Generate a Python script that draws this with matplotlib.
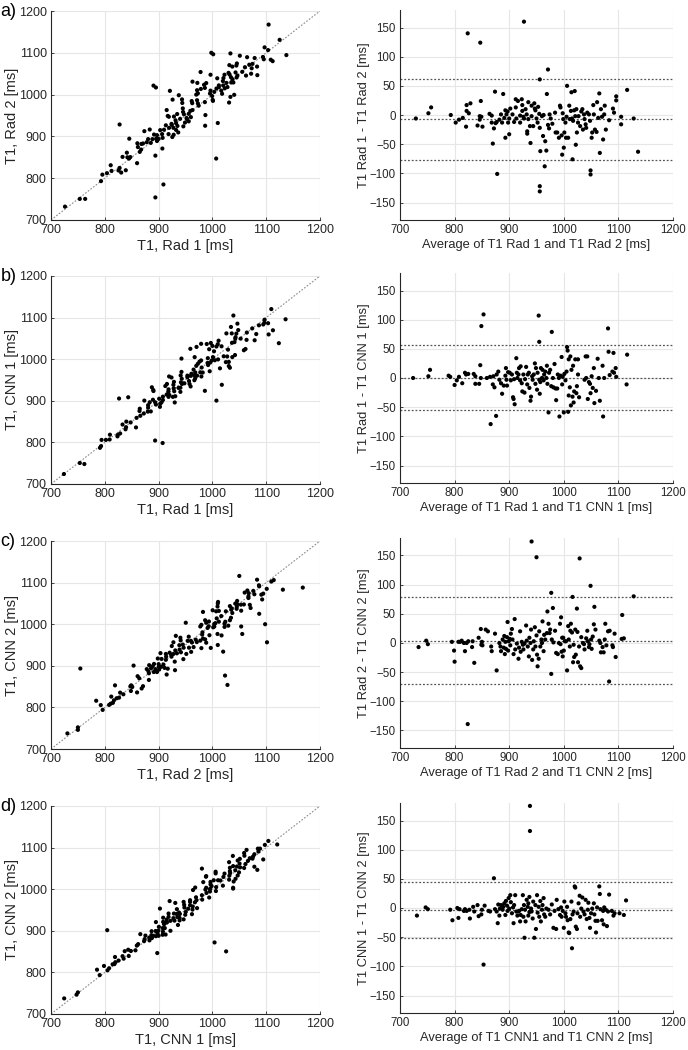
import numpy as np
import matplotlib
matplotlib.use('Agg')
import matplotlib.pyplot as plt

plt.rcParams['font.family'] = ['Liberation Sans', 'DejaVu Sans']

## Bland-Altman points: (average, difference) in ms
ba_a = [(729,-6),(752,3),(757,13),(793,0),(802,-13),(808,-8),(815,-5),(821,-20),(822,17),(822,7),
        (824,140),(826,3),(829,20),(842,-18),(846,-8),(846,-2),(848,24),(847,124),(851,-20),(849,-3),
        (864,2),(868,-1),(868,-13),(870,-49),(872,-23),(874,40),(875,-14),(877,-12),(878,-101),(882,-8),
        (885,1),(887,-13),(889,36),(891,-5),(893,8),(893,-39),(895,1),(897,6),(898,-13),(900,-33),
        (900,-6),(902,11),(906,1),(909,-12),(912,27),(912,13),(913,-6),(916,24),(920,-13),(920,-1),
        (923,27),(924,17),(924,7),(926,-3),(927,160),(927,-6),(930,10),(932,1),(933,-28),(933,-32),
        (935,22),(935,-7),(938,-19),(939,-48),(941,16),(941,-2),(944,-19),(946,20),(947,11),(948,8),
        (950,-6),(952,-13),(953,14),(955,2),(956,-22),(956,61),(956,-122),(956,-131),(957,-62),(960,-2),
        (962,-36),(963,0),(965,-88),(966,-45),(968,-61),(969,36),(971,78),(971,-17),(973,-23),(974,1),
        (976,-6),(979,-15),(984,4),(985,-30),(988,-30),(991,-39),(993,16),(994,13),(996,-35),(997,-68),
        (998,3),(999,-7),(1000,-56),(1001,-30),(1003,-13),(1004,-39),(1005,-3),(1006,50),(1008,-39),(1010,16),
        (1011,-7),(1013,7),(1014,39),(1015,-6),(1016,-76),(1017,-10),(1019,8),(1020,41),(1021,-2),(1022,-51),
        (1023,10),(1024,-30),(1026,-13),(1027,-2),(1030,-19),(1032,6),(1034,10),(1035,-25),(1037,1),(1038,-7),
        (1040,-16),(1041,-22),(1043,4),(1046,1),(1048,-10),(1049,-95),(1049,-102),(1051,-39),(1052,-30),(1054,17),
        (1055,1),(1057,-25),(1060,-29),(1061,22),(1063,-5),(1065,37),(1066,-65),(1068,10),(1070,-3),(1072,-42),
        (1074,1),(1075,16),(1077,-25),(1083,-9),(1090,11),(1092,4),(1096,32),(1096,25),(1105,-3),(1105,-16),
        (1116,43),(1128,-6),(1136,-63)]

ba_b = [(724,0),(752,3),(755,14),(789,4),(792,2),(800,-12),(804,-4),(808,2),(814,-9),(819,9),
        (821,6),(825,7),(835,7),(838,3),(838,-10),(845,-10),(847,22),(848,0),(849,89),(853,109),
        (859,0),(865,2),(866,-79),(870,-11),(871,3),(873,-16),(876,-65),(877,6),(880,11),(882,-3),
        (885,-9),(887,-27),(890,-13),(893,4),(894,17),(895,-3),(896,-13),(898,10),(901,9),(903,-4),
        (905,6),(907,-33),(908,-36),(909,-2),(910,-45),(913,34),(914,9),(915,0),(917,6),(918,17),
        (920,-4),(921,20),(923,-9),(924,-23),(926,6),(928,-25),(929,-2),(931,19),(933,-11),(934,6),
        (936,9),(937,-17),(939,-39),(940,-32),(942,3),(943,-3),(945,6),(947,25),(948,-10),(949,17),
        (951,-20),(952,9),(954,107),(955,62),(955,-3),(956,-27),(957,-7),(958,17),(960,0),(961,14),
        (963,-4),(964,6),(966,11),(968,0),(969,21),(970,-10),(972,-59),(973,9),(975,14),(977,-14),
        (978,79),(980,0),(981,-16),(983,24),(985,-18),(986,-38),(988,-18),(989,6),(991,0),(992,-66),
        (994,4),(996,36),(997,-11),(998,2),(1000,-59),(1001,7),(1003,-4),(1005,11),(1006,53),(1007,47),
        (1008,-58),(1009,32),(1009,-30),(1011,-16),(1012,37),(1013,-47),(1014,14),(1016,-32),(1017,21),(1018,-42),
        (1019,-23),(1021,32),(1023,-26),(1024,-14),(1026,32),(1026,6),(1028,-33),(1038,-3),(1040,37),(1041,0),
        (1043,37),(1044,-36),(1046,-7),(1048,-10),(1049,-26),(1051,3),(1053,-17),(1055,17),(1056,-43),(1059,-22),
        (1062,33),(1064,0),(1066,-39),(1071,21),(1072,-66),(1074,0),(1081,85),(1082,45),(1084,5),(1089,11),
        (1091,43),(1092,9),(1095,17),(1096,2),(1115,-11),(1116,40)]

ba_c = [(734,-7),(748,4),(751,-2),(795,2),(799,-13),(800,-32),(807,2),(810,2),(813,4),(817,0),
        (819,-14),(822,0),(824,-139),(825,3),(832,-7),(833,3),(836,-34),(844,9),(848,24),(849,-3),
        (850,2),(851,-4),(857,23),(861,20),(867,-6),(868,-14),(874,16),(877,-47),(882,0),(884,-6),
        (885,-14),(888,6),(890,-8),(891,12),(892,-19),(893,2),(894,-10),(896,10),(897,36),(898,-13),
        (899,3),(901,7),(902,-4),(903,16),(905,24),(906,6),(908,-19),(910,41),(911,-11),(914,-1),
        (917,-27),(918,-8),(920,20),(921,-15),(923,2),(925,-3),(926,-11),(928,-1),(931,30),(932,4),
        (934,-6),(936,-23),(937,9),(939,0),(940,23),(941,174),(942,-29),(944,-11),(945,3),(947,27),
        (948,-6),(950,13),(950,147),(951,-20),(952,-40),(954,-27),(955,20),(957,-6),(959,6),(960,0),
        (961,37),(963,-14),(964,14),(966,6),(969,17),(970,54),(972,33),(974,17),(975,23),(977,86),
        (977,-53),(978,6),(980,60),(981,1),(984,21),(986,-17),(989,-19),(991,0),(993,33),(994,-2),
        (995,44),(996,-15),(997,9),(998,-23),(999,9),(1000,-13),(1002,3),(1004,3),(1006,-47),(1008,29),
        (1009,6),(1011,-6),(1012,21),(1013,33),(1015,18),(1016,79),(1017,-33),(1018,-3),(1019,-24),(1021,23),
        (1022,-20),(1024,59),(1025,19),(1026,-33),(1028,-6),(1029,145),(1030,-40),(1032,-43),(1032,10),(1035,0),
        (1037,-2),(1038,-11),(1041,8),(1043,21),(1044,3),(1046,-7),(1047,-2),(1049,98),(1050,6),(1051,-10),
        (1053,11),(1055,32),(1056,62),(1058,23),(1065,4),(1067,0),(1068,-16),(1071,-7),(1073,-16),(1075,6),
        (1076,33),(1078,-4),(1081,20),(1083,-66),(1084,21),(1089,-4),(1090,-7),(1093,16),(1095,-24),(1106,7),
        (1107,48),(1110,8),(1128,80)]

ba_d = [(731,-13),(747,1),(751,-2),(792,-3),(796,-21),(805,0),(807,-17),(809,-2),(817,-5),(819,-2),
        (822,-5),(827,-3),(828,-18),(834,2),(836,-6),(842,5),(844,-14),(849,-11),(850,-3),(853,-97),
        (855,4),(862,-5),(865,-6),(872,51),(874,-2),(877,-6),(879,-26),(880,6),(882,-13),(883,-1),
        (885,5),(888,-3),(889,2),(891,8),(893,-12),(894,12),(896,4),(897,-5),(899,17),(900,-1),
        (902,22),(903,10),(905,-9),(907,1),(908,-26),(909,5),(911,22),(913,-6),(915,-13),(917,-6),
        (918,-5),(920,-23),(921,-12),(923,-2),(925,22),(926,-15),(927,5),(928,-51),(929,-3),(930,-23),
        (932,14),(934,2),(935,-13),(935,8),(937,19),(937,-7),(938,132),(938,175),(940,-1),(941,-6),
        (943,-18),(944,11),(946,-51),(948,5),(949,-36),(951,22),(952,-8),(954,2),(955,-15),(957,12),
        (958,-23),(960,-3),(961,5),(963,17),(964,-11),(966,-15),(968,-1),(972,-3),(975,-11),(978,6),
        (981,-34),(983,-5),(986,-36),(987,14),(990,-2),(993,-12),(995,1),(996,-15),(998,-5),(1000,-34),
        (1001,11),(1003,-9),(1004,-15),(1006,2),(1007,-21),(1009,-42),(1010,-43),(1012,-19),(1014,11),(1015,-69),
        (1016,-11),(1018,-6),(1020,37),(1021,35),(1022,-32),(1024,-36),(1025,-9),(1027,8),(1029,21),(1030,-15),
        (1032,-1),(1034,18),(1036,-6),(1038,-11),(1040,14),(1042,-19),(1044,-3),(1045,9),(1047,-17),(1048,-34),
        (1050,-9),(1052,-1),(1055,8),(1056,-11),(1058,-22),(1059,-42),(1061,1),(1062,-22),(1065,37),(1066,24),
        (1067,-2),(1070,-21),(1072,-5),(1073,-28),(1074,1),(1077,-3),(1079,-31),(1081,-6),(1083,23),(1088,-5),
        (1091,-13),(1093,-9),(1102,-9),(1110,-12),(1114,13)]

# bias, upper and lower limits of agreement
loa_a = (-7, 62, -77)
loa_b = (0, 56, -55)
loa_c = (4, 79, -70)
loa_d = (-4, 44, -52)

rows = [
    ('a)', ba_a, loa_a, 'T1, Rad 1 [ms]', 'T1, Rad 2 [ms]',
     'Average of T1 Rad 1 and T1 Rad 2 [ms]', 'T1 Rad 1 - T1 Rad 2 [ms]'),
    ('b)', ba_b, loa_b, 'T1, Rad 1 [ms]', 'T1, CNN 1 [ms]',
     'Average of T1 Rad 1 and T1 CNN 1 [ms]', 'T1 Rad 1 - T1 CNN 1 [ms]'),
    ('c)', ba_c, loa_c, 'T1, Rad 2 [ms]', 'T1, CNN 2 [ms]',
     'Average of T1 Rad 2 and T1 CNN 2 [ms]', 'T1 Rad 2 - T1 CNN 2 [ms]'),
    ('d)', ba_d, loa_d, 'T1, CNN 1 [ms]', 'T1, CNN 2 [ms]',
     'Average of T1 CNN1 and T1 CNN 2 [ms]', 'T1 CNN 1 - T1 CNN 2 [ms]'),
]

W, H = 688, 1050
left_tb = [(11, 220), (276, 484), (541, 749), (806, 1014)]
right_tb = [(10, 220), (273, 483), (538, 748), (803, 1013)]

AXC = '#262626'
GRIDC = '#e6e6e6'

def box(l, t, r, b):
    return [l / W, 1 - b / H, (r - l) / W, (b - t) / H]

def style(ax, fs):
    for s in ['top', 'right']:
        ax.spines[s].set_visible(False)
    for s in ['left', 'bottom']:
        ax.spines[s].set_color(AXC)
        ax.spines[s].set_linewidth(0.8)
    ax.grid(True, color=GRIDC, lw=0.8)
    ax.set_axisbelow(True)
    ax.tick_params(direction='in', length=2.5, width=0.6, colors=AXC,
                   labelsize=fs, pad=3)

fig = plt.figure(figsize=(W / 100, H / 100), dpi=100)

for i, (tag, ba, loa, xl, yl, bxl, byl) in enumerate(rows):
    pts = np.array(ba, dtype=float)
    avg, dif = pts[:, 0], pts[:, 1]
    x = avg + dif / 2
    y = avg - dif / 2

    ## scatter of the two readers
    t, b = left_tb[i]
    ax = fig.add_axes(box(51, t, 320, b))
    ax.plot([700, 1200], [700, 1200], ls=(0, (1.5, 1.5)), color='#8a8a8a', lw=0.8, zorder=2)
    ax.scatter(x, y, s=9, c='black', edgecolors='none', zorder=3)
    ax.set_xlim(700, 1200)
    ax.set_ylim(700, 1200)
    ax.set_xticks(range(700, 1201, 100))
    ax.set_yticks(range(700, 1201, 100))
    style(ax, 9)
    ax.set_xlabel(xl, fontsize=10.5, color=AXC, labelpad=2)
    ax.set_ylabel(yl, fontsize=10.5, color=AXC, labelpad=0)
    fig.text(0.001, 1 - (t + 5) / H, tag, fontsize=13, color='black', va='baseline', ha='left')

    ## Bland-Altman
    t, b = right_tb[i]
    ax2 = fig.add_axes(box(400, t, 673, b))
    for v in loa:
        ax2.axhline(v, ls=(0, (1.5, 1.5)), color='#555555', lw=0.9, zorder=2)
    ax2.scatter(avg, dif, s=9, c='black', edgecolors='none', zorder=3)
    ax2.set_xlim(700, 1200)
    ax2.set_ylim(-180, 180)
    ax2.set_xticks(range(700, 1201, 100))
    ax2.set_yticks(range(-150, 151, 50))
    style(ax2, 8.3)
    ax2.set_xlabel(bxl, fontsize=9.3, color=AXC, labelpad=2)
    ax2.set_ylabel(byl, fontsize=9.3, color=AXC, labelpad=0)

fig.savefig('out.png', dpi=100)
